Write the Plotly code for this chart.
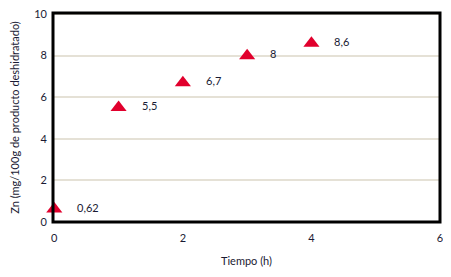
import plotly.graph_objects as go

tiempo = [0, 1, 2, 3, 4]
zn = [0.62, 5.5, 6.7, 8.0, 8.6]
etiquetas = ["0,62", "5,5", "6,7", "8", "8,6"]
x_ticks = [0, 2, 4, 6]
y_ticks = [0, 2, 4, 6, 8, 10]

FONT = "Lato, Roboto, sans-serif"
TXT = "#1a1a33"

fig = go.Figure()
fig.add_trace(go.Scatter(
    x=tiempo, y=zn, mode="markers",
    marker=dict(symbol="triangle-up", size=14, color="#E1002D"),
    cliponaxis=False, showlegend=False, hoverinfo="skip",
))

for x, y, t in zip(tiempo, zn, etiquetas):
    fig.add_annotation(x=x, y=y, text=t, showarrow=False, xanchor="left",
                       xshift=21, yshift=2, font=dict(family=FONT, size=11, color=TXT))

fig.add_shape(type="rect", xref="paper", yref="paper", x0=0, y0=0, x1=1, y1=1,
              line=dict(color="black", width=3), layer="above")

fig.update_layout(
    width=443, height=269,
    margin=dict(l=45, r=11, t=5, b=55),
    paper_bgcolor="white", plot_bgcolor="white",
    font=dict(family=FONT, size=11, color=TXT),
    showlegend=False,
)
fig.update_xaxes(
    range=[-0.02, 6.0], tickvals=x_ticks, ticktext=[str(v) for v in x_ticks],
    showgrid=False, zeroline=False, showline=False, automargin=False,
    ticks="", ticklabelstandoff=8, ticklabeloverflow="allow",
    title=dict(text="Tiempo (h)", font=dict(family=FONT, size=11, color=TXT), standoff=14),
)
fig.update_yaxes(
    range=[0, 10.05], tickvals=y_ticks, ticktext=[str(v) for v in y_ticks],
    showgrid=True, gridcolor="#E5E1D6", gridwidth=2, zeroline=False,
    showline=False, automargin=False, ticks="",
    ticklabelstandoff=5, ticklabeloverflow="allow",
    title=dict(text="Zn (mg/100g de producto deshidratado)",
               font=dict(family=FONT, size=11, color=TXT), standoff=12),
)

fig.write_html("out.html")
